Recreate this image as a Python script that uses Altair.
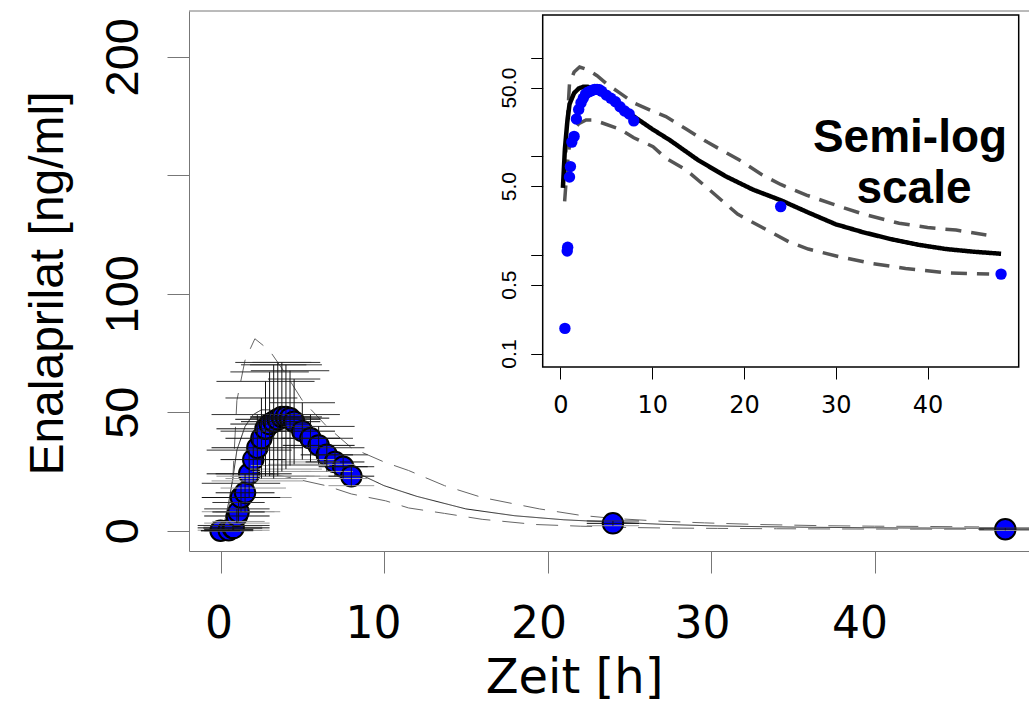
import altair as alt
import pandas as pd

# ---------------- data ----------------
obs_time = [0, 0.5, 0.75, 0.8, 1.0, 1.1, 1.25, 1.5, 1.75, 2.0, 2.25, 2.5, 2.75, 3.0,
            3.25, 3.5, 3.75, 4.0, 4.25, 4.5, 5.0, 5.5, 6.0, 6.5, 7.0, 7.5, 8.0, 24, 48]
obs_conc = [0, 0.18, 1.1, 1.2, 6.2, 7.9, 14, 16, 24, 30, 35, 39, 43, 45,
            46, 47, 48, 48, 47.5, 46, 42, 39, 36, 32, 29, 27, 23, 3.1, 0.64]
obs_sd = [0, 0.3, 1, 1, 3, 4, 6, 8, 10, 12, 14, 17, 20, 22,
          24, 24, 23, 22, 20, 18, 12, 10, 8, 7, 6, 5, 4, 1, 0.5]
obs_terr = [1.2, 1.5, 1.8, 2.2, 2.0, 1.6, 2.4, 1.8, 2.6, 2.0, 2.8, 2.2, 3.0, 2.4,
            2.0, 2.6, 1.8, 2.2, 2.4, 1.6, 2.0, 1.8, 2.2, 1.6, 1.8, 1.5, 1.4, 1.6, 1.6]

model_time = [0.28, 0.5, 0.75, 1.0, 1.5, 2.0, 2.5, 3.0, 4.0, 5.0, 6.0, 8.0, 10, 12,
              15, 18, 21, 24, 27, 30, 33, 36, 39, 42, 45, 48]
model_conc = [4.8, 12, 22, 34, 44, 49, 51, 51, 48, 42, 36, 25.5, 19, 14.5,
              9.2, 6.3, 4.6, 3.6, 2.7, 2.05, 1.7, 1.45, 1.27, 1.15, 1.08, 1.03]

upper_time = [0.47, 0.75, 1.0, 1.5, 2.1, 3.0, 4.0, 5.0, 6.5, 8.0, 10, 11.5, 13.7, 16,
              19.5, 22, 24, 26.8, 29.6, 33, 36.9, 40, 43.1, 46.4]
upper_conc = [6, 22, 55, 72, 81, 76, 66, 55, 44, 35, 29, 25.4, 19, 14,
              9.2, 6.5, 5.2, 4.06, 3.3, 2.6, 2.1, 1.9, 1.79, 1.6]

lower_time = [0.47, 0.75, 1.0, 1.4, 2.0, 2.8, 3.5, 4.5, 6.45, 8.0, 10.1, 11.5, 13.7, 16,
              19.3, 22, 24.9, 27, 30.4, 34, 37.6, 42, 46.7]
lower_conc = [3.5, 8, 13, 18.6, 21.5, 23.5, 23.5, 22, 19, 15.5, 12.6, 9.6, 7.3, 4.8,
              2.6, 1.9, 1.36, 1.15, 0.96, 0.82, 0.73, 0.66, 0.64]

main_x_ticks = [0, 10, 20, 30, 40]
main_y_ticks = [0, 50, 100, 150, 200]
inset_x_ticks = [0, 10, 20, 30, 40]
inset_y_ticks = [0.1, 0.5, 1, 5, 10, 50, 100]
inset_title = ["Semi-log", "scale"]

obs = pd.DataFrame({"time": obs_time, "conc": obs_conc, "sd": obs_sd, "terr": obs_terr})
curves = pd.concat([
    pd.DataFrame({"time": model_time, "conc": model_conc, "series": "model"}),
    pd.DataFrame({"time": upper_time, "conc": upper_conc, "series": "upper"}),
    pd.DataFrame({"time": lower_time, "conc": lower_conc, "series": "lower"}),
], ignore_index=True)
one = pd.DataFrame({"k": [0]})

W, H = 840, 540

# ---------------- main (linear) panel ----------------
mx = alt.Scale(domain=[-1.93, 49.45], nice=False, zero=False)
my = alt.Scale(domain=[-8.57, 219.3], nice=False, zero=False)

x_axis = alt.Axis(values=main_x_ticks, tickSize=22, tickColor="#777", domainColor="#777",
                  grid=False, labelFont="DejaVu Sans", labelFontSize=44, labelColor="black",
                  labelBaseline="alphabetic", labelPadding=64, labelFlush=False,
                  labelOverlap=False,
                  labelOffset={"condition": [{"test": "datum.value == 10", "value": -11},
                                             {"test": "datum.value == 20", "value": -9},
                                             {"test": "datum.value == 30", "value": -9},
                                             {"test": "datum.value == 40", "value": -15}],
                               "value": -2},
                  title="Zeit [h]", titleFont="DejaVu Sans",
                  titleFontSize=48, titleFontWeight="normal", titleColor="black",
                  titleX=385, titleY=141, titleAlign="center", titleBaseline="alphabetic")
y_axis = alt.Axis(values=main_y_ticks, tickSize=22, tickColor="#777", domainColor="#777",
                  grid=False, labelFont="Liberation Sans", labelFontSize=47, labelColor="black",
                  labelAngle=270, labelAlign="center", labelBaseline="alphabetic",
                  labelPadding=30, labelFlush=False, labelOverlap=False,
                  labelExpr="datum.value == 150 ? '' : datum.label",
                  title="Enalaprilat [ng/ml]", titleFont="Liberation Sans", titleFontSize=48,
                  titleFontWeight="normal", titleColor="black", titleAngle=270,
                  titleX=-127, titleY=272, titleAlign="center", titleBaseline="alphabetic")

top_line = alt.Chart(one).mark_rule(color="#777", strokeWidth=1).encode(
    x=alt.value(0), x2=alt.value(W), y=alt.value(0))

main_curves = []
for name, color, dash in [("model", "#222", [1, 0]), ("upper", "#666", [22, 12]),
                          ("lower", "#666", [22, 12])]:
    main_curves.append(
        alt.Chart(curves).transform_filter(alt.datum.series == name)
        .mark_line(color=color, strokeWidth=1, strokeDash=dash)
        .encode(x=alt.X("time:Q", scale=mx, axis=x_axis),
                y=alt.Y("conc:Q", scale=my, axis=y_axis))
    )

main_points = alt.Chart(obs).mark_point(
    shape="circle", filled=True, fill="#0000ff", stroke="black", strokeWidth=2,
    size=420, opacity=1
).encode(x=alt.X("time:Q", scale=mx), y=alt.Y("conc:Q", scale=my))

vbars = alt.Chart(obs).transform_calculate(
    lo="datum.conc - datum.sd", hi="datum.conc + datum.sd"
).mark_rule(color="#111", strokeWidth=1).encode(
    x=alt.X("time:Q", scale=mx), y=alt.Y("lo:Q", scale=my), y2="hi:Q")

hbars = alt.Chart(obs).transform_calculate(
    t0="datum.time - datum.terr", t1="datum.time + datum.terr"
).mark_rule(color="#111", strokeWidth=1).encode(
    x=alt.X("t0:Q", scale=mx), x2="t1:Q", y=alt.Y("conc:Q", scale=my))

caps_hi = alt.Chart(obs).transform_calculate(
    t0="datum.time - datum.terr", t1="datum.time + datum.terr", hi="datum.conc + datum.sd"
).mark_rule(color="#333", strokeWidth=1).encode(
    x=alt.X("t0:Q", scale=mx), x2="t1:Q", y=alt.Y("hi:Q", scale=my))

caps_lo = alt.Chart(obs).transform_calculate(
    t0="datum.time - datum.terr", t1="datum.time + datum.terr", lo="datum.conc - datum.sd"
).mark_rule(color="#999", strokeWidth=1).encode(
    x=alt.X("t0:Q", scale=mx), x2="t1:Q", y=alt.Y("lo:Q", scale=my))

main = alt.layer(top_line, *main_curves, main_points, caps_lo, caps_hi, vbars, hbars)

# ---------------- inset (semi-log) panel ----------------
IX0, IX1, IY0, IY1 = 353.7, 829.7, 4, 356
ix = alt.Scale(domain=[-1.92, 49.92], range=[IX0, IX1], nice=False, zero=False)
iy = alt.Scale(type="log", domain=[0.073, 273], range=[IY1, IY0], nice=False)

ix_axis = alt.Axis(orient="bottom", offset=-(H - IY1), values=inset_x_ticks, tickSize=12,
                   tickColor="black", domain=False, grid=False, labelFont="DejaVu Sans",
                   labelFontSize=24, labelColor="black", labelBaseline="alphabetic",
                   labelPadding=33, labelFlush=False, labelOverlap=False, title="", zindex=2)
iy_axis = alt.Axis(orient="left", offset=-IX0, values=inset_y_ticks, tickSize=12,
                   tickColor="black", domain=False, grid=False, labelFont="Liberation Sans",
                   labelFontSize=21, labelColor="black", labelAngle=270, labelAlign="center",
                   labelBaseline="alphabetic", labelPadding=15, labelFlush=False,
                   labelOverlap=False, title="", zindex=2,
                   labelExpr="datum.value == 0.1 ? '0.1' : datum.value == 0.5 ? '0.5' : "
                             "datum.value == 5 ? '5.0' : datum.value == 50 ? '50.0' : ''")

frame = alt.Chart(one).mark_rect(fill="white", stroke="black", strokeWidth=1.5).encode(
    x=alt.value(IX0), x2=alt.value(IX1), y=alt.value(IY0), y2=alt.value(IY1))

inset_curves = []
for name, color, width, dash in [("upper", "#555", 3.5, [16, 10]), ("lower", "#555", 3.5, [16, 10]),
                                 ("model", "black", 4.5, [1, 0])]:
    inset_curves.append(
        alt.Chart(curves).transform_filter(alt.datum.series == name)
        .mark_line(color=color, strokeWidth=width, strokeDash=dash)
        .encode(x=alt.X("time:Q", scale=ix, axis=ix_axis),
                y=alt.Y("conc:Q", scale=iy, axis=iy_axis))
    )

inset_points = alt.Chart(obs).transform_filter("datum.conc > 0").mark_circle(
    color="#0000ff", size=130, opacity=1
).encode(x=alt.X("time:Q", scale=ix), y=alt.Y("conc:Q", scale=iy))

txt1 = alt.Chart(one).mark_text(text=inset_title[0], font="Liberation Sans", fontSize=46,
                                fontWeight="bold", align="center", baseline="alphabetic",
                                color="black").encode(x=alt.value(721), y=alt.value(141))
txt2 = alt.Chart(one).mark_text(text=inset_title[1], font="Liberation Sans", fontSize=46,
                                fontWeight="bold", align="center", baseline="alphabetic",
                                color="black").encode(x=alt.value(725), y=alt.value(192))

inset = alt.layer(frame, *inset_curves, inset_points, txt1, txt2)

chart = alt.layer(main, inset).resolve_scale(x="independent", y="independent").properties(
    width=W, height=H,
    autosize=alt.AutoSizeParams(type="none"),
    padding={"left": 189, "top": 11, "right": 0, "bottom": 161},
    background="white",
).configure_view(strokeWidth=0)

chart.save("out.html", embed_options={"renderer": "svg", "actions": False})
